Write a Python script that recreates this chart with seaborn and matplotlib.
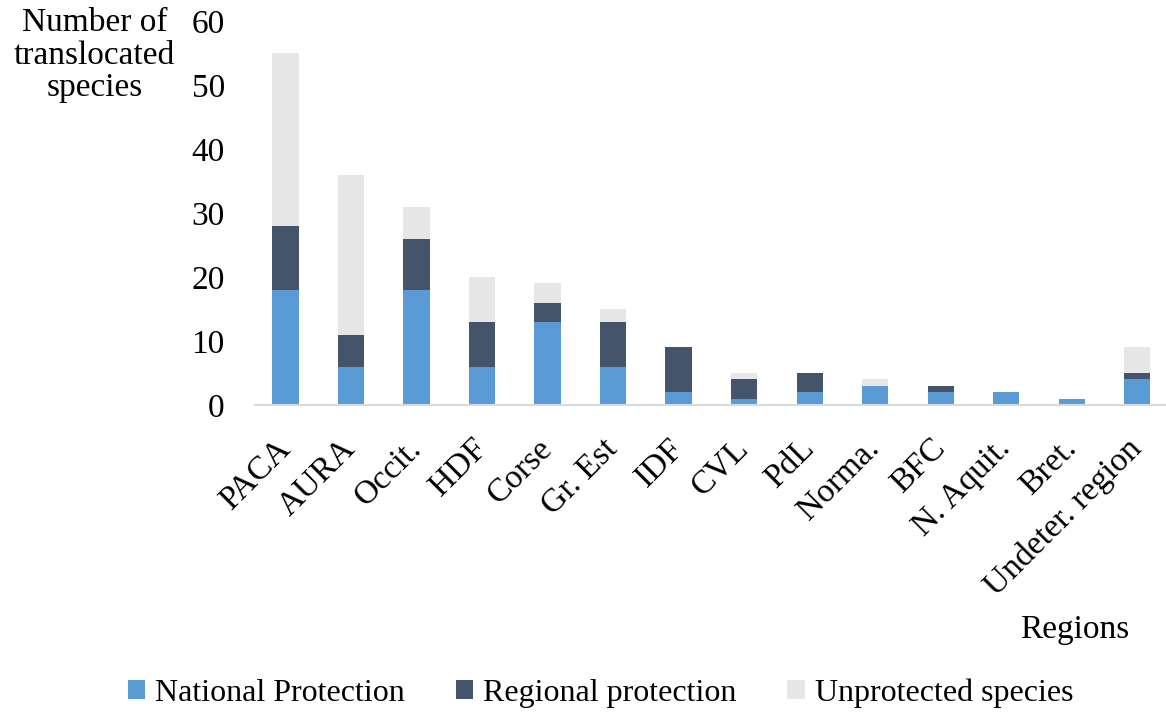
import matplotlib
matplotlib.use("Agg")
import matplotlib.pyplot as plt
import numpy as np
import pandas as pd
import seaborn as sns

regions = ["PACA", "AURA", "Occit.", "HDF", "Corse", "Gr. Est", "IDF", "CVL",
           "PdL", "Norma.", "BFC", "N. Aquit.", "Bret.", "Undeter. region"]
national = [18, 6, 18, 6, 13, 6, 2, 1, 2, 3, 2, 2, 1, 4]
regional = [10, 5, 8, 7, 3, 7, 7, 3, 3, 0, 1, 0, 0, 1]
unprotected = [27, 25, 5, 7, 3, 2, 0, 1, 0, 1, 0, 0, 0, 4]

df = pd.DataFrame({"region": regions, "national": national,
                   "regional": regional, "unprotected": unprotected})

sns.set_style("white")
plt.rcParams["font.family"] = ["Liberation Serif", "DejaVu Serif"]
plt.rcParams["text.color"] = "black"
plt.rcParams["xtick.color"] = "black"
plt.rcParams["ytick.color"] = "black"

fig = plt.figure(figsize=(11.66, 7.17), dpi=100)
ax = fig.add_axes([0.219, 0.435, 0.781, 0.536])

w = 0.40
base2 = df["national"].values
base3 = base2 + df["regional"].values
sns.barplot(data=df, x="region", y="national", color="#5B9BD5", width=w,
            ax=ax, label="National Protection", saturation=1, linewidth=0)
sns.barplot(data=df, x="region", y="regional", color="#44546A", width=w,
            bottom=base2, ax=ax, label="Regional protection", saturation=1, linewidth=0)
sns.barplot(data=df, x="region", y="unprotected", color="#E6E6E6", width=w,
            bottom=base3, ax=ax, label="Unprotected species", saturation=1, linewidth=0)

ax.set_ylim(0, 60)
ax.set_yticks(range(0, 61, 10))
ax.set_xlim(-0.46, 13.44)
for s in ["top", "right", "left"]:
    ax.spines[s].set_visible(False)
ax.spines["bottom"].set_color("#D9D9D9")
ax.spines["bottom"].set_linewidth(1.5)
ax.tick_params(axis="y", length=0, labelsize=24, pad=22)
ax.tick_params(axis="x", length=0, labelsize=24, pad=28)
plt.setp(ax.get_xticklabels(), rotation=45, ha="right", va="center",
         rotation_mode="anchor")
ax.set_xlabel("")
ax.set_ylabel("")

fig.text(0.081, 0.99, "Number of\ntranslocated\nspecies", ha="center", va="top",
         fontsize=24, linespacing=1.1)
fig.text(0.922, 0.122, "Regions", ha="center", va="center", fontsize=24)

handles, labels = ax.get_legend_handles_labels()
ax.legend(handles, labels, loc="center", bbox_to_anchor=(0.515, 0.033),
          bbox_transform=fig.transFigure, ncol=3, frameon=False, fontsize=23,
          handlelength=0.55, handleheight=0.55, handletextpad=0.3, columnspacing=1.6)

fig.savefig("out.png", dpi=100)
